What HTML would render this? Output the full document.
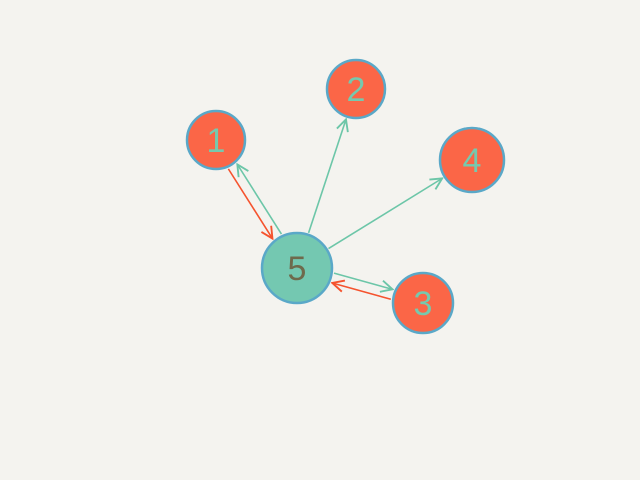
<!DOCTYPE html>
<html><head><meta charset="utf-8"><style>
html,body{margin:0;padding:0;background:#f4f3ef;}
svg{display:block}
text{font-family:"Liberation Sans",sans-serif;}
</style></head><body>
<svg id="c" width="640" height="480" viewBox="0 0 640 480">
<defs>
<marker id="at" viewBox="0 0 10 10" refX="9" refY="5" markerWidth="9" markerHeight="9" orient="auto"><path d="M1,1 L9,5 L1,9" fill="none" stroke="#6cc6a8" stroke-width="1.3"/></marker>
<marker id="ar" viewBox="0 0 10 10" refX="9" refY="5" markerWidth="9" markerHeight="9" orient="auto"><path d="M1,1 L9,5 L1,9" fill="none" stroke="#f5532e" stroke-width="1.3"/></marker>
</defs>
</svg>
<script>
const nodeIds=['1','2','3','4','5'];
const nodeX=[216,356,423,472,297];
const nodeY=[140,89,303,160,268];
const nodeR=[29,29,30,32,35];
const edgeFrom=['5','1','5','5','5','3'];
const edgeTo=['1','5','2','4','3','5'];
const edgeColor=['t','r','t','t','t','r'];
const edgeSide=[1,1,0,0,-1,-1];
const svg=document.getElementById('c');
const NS='http://www.w3.org/2000/svg';
function idx(id){return nodeIds.indexOf(id);}
for(let i=0;i<edgeFrom.length;i++){
  const a=idx(edgeFrom[i]),b=idx(edgeTo[i]);
  let x1=nodeX[a],y1=nodeY[a],x2=nodeX[b],y2=nodeY[b];
  const dx=x2-x1,dy=y2-y1,L=Math.hypot(dx,dy),ux=dx/L,uy=dy/L;
  const off=5*edgeSide[i];
  const px=-uy*off,py=ux*off;
  const sx=x1+ux*(nodeR[a]+2)+px,sy=y1+uy*(nodeR[a]+2)+py;
  const ex=x2-ux*(nodeR[b]+3)+px,ey=y2-uy*(nodeR[b]+3)+py;
  const l=document.createElementNS(NS,'line');
  l.setAttribute('x1',sx);l.setAttribute('y1',sy);l.setAttribute('x2',ex);l.setAttribute('y2',ey);
  const col=edgeColor[i]==='t'?'#6cc6a8':'#f5532e';
  l.setAttribute('stroke',col);l.setAttribute('stroke-width','1.6');
  l.setAttribute('marker-end',edgeColor[i]==='t'?'url(#at)':'url(#ar)');
  
  
  svg.appendChild(l);
}
for(let i=0;i<nodeIds.length;i++){
  const g=document.createElementNS(NS,'g');
  
  
  const c=document.createElementNS(NS,'circle');
  c.setAttribute('cx',nodeX[i]);c.setAttribute('cy',nodeY[i]);c.setAttribute('r',nodeR[i]);
  const center=nodeIds[i]==='5';
  c.setAttribute('fill',center?'#74c8b1':'#fb6647');
  c.setAttribute('stroke','#5aa8c8');c.setAttribute('stroke-width','2.5');
  g.appendChild(c);
  const t=document.createElementNS(NS,'text');
  t.setAttribute('x',nodeX[i]);t.setAttribute('y',nodeY[i]+12);
  t.setAttribute('text-anchor','middle');t.setAttribute('font-size','34');
  t.setAttribute('fill',center?'#6e6a4c':'#76c9ae');
  
  
  t.textContent=nodeIds[i];
  g.appendChild(t);
  svg.appendChild(g);
}
</script>
</body></html>
